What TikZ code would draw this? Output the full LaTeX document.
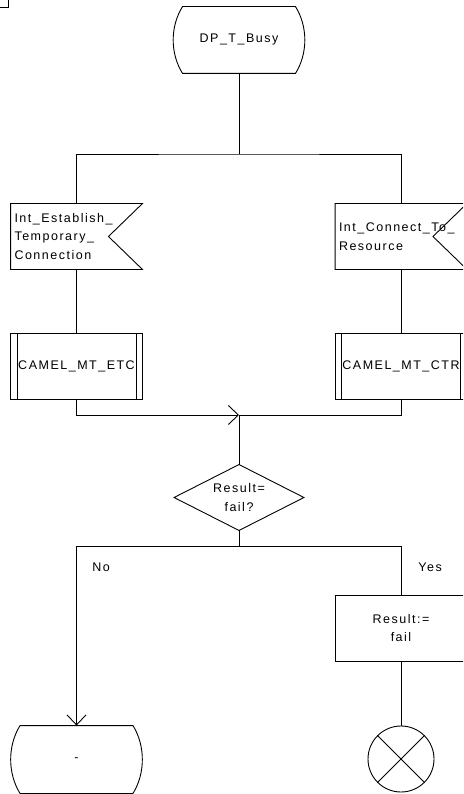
\documentclass[tikz,border=0pt]{standalone}
\usepackage{fontspec}
\setmainfont{Liberation Sans}[LetterSpace=12]
\usetikzlibrary{arrows.meta}
\begin{document}
\begin{tikzpicture}[x=1pt,y=-1pt,line width=0.9pt,
  font=\fontsize{12.5}{18.5}\selectfont,
  box/.style={rectangle,minimum width=131pt,minimum height=65pt,inner sep=0pt,align=center},
  sigbox/.style={box,text width=124pt,inner xsep=3.5pt,align=left},
  barb/.style={-{Straight Barb[length=10pt,width=19pt]}},
  lbl/.style={anchor=base west,inner sep=0pt}]
\useasboundingbox (0,0) rectangle (463,794);
\clip (0,0) rectangle (463,794);
% corner mark
\draw (0,7) -- (8,7) -- (8,0);
% nodes
\node[box,minimum height=66pt] (start) at (239,40) {DP\_T\_Busy};
\coordinate (j1) at (239,154);
\node[sigbox] (in1) at (76.5,236.5) {Int\_Establish\_\\Temporary\_\\Connection};
\node[sigbox] (in2) at (401,236.5) {Int\_Connect\_To\_\\Resource};
\node[box] (p1) at (76.5,366.5) {CAMEL\_MT\_ETC};
\node[box] (p2) at (401,366.5) {CAMEL\_MT\_CTR};
\coordinate (j2) at (239,415);
\node[box,minimum width=129pt] (dec) at (239,497.5) {Result=\\fail?};
\coordinate (j3) at (239,546);
\node[box,minimum height=66pt,draw] (task) at (401,628) {Result:=\\fail};
\node[box,minimum height=67pt] (endst) at (76.5,759.5) {-};
\node[circle,minimum size=66pt,inner sep=0pt,draw] (stop) at (401,759) {};
\node[lbl] (no) at (92,571) {No};
\node[lbl] (yes) at (418,571) {Yes};
% shapes
\foreach \n in {start,endst}{
  \draw ([xshift=9.5pt]\n.north west) -- ([xshift=-9.5pt]\n.north east)
    .. controls +(12.5,20) and +(12.5,-20) .. ([xshift=-9.5pt]\n.south east)
    -- ([xshift=9.5pt]\n.south west)
    .. controls +(-12.5,-20) and +(-12.5,20) .. ([xshift=9.5pt]\n.north west) -- cycle;
}
\foreach \n in {in1,in2}{
  \draw (\n.north west) -- (\n.north east) -- ([xshift=-34pt]\n.east)
    -- (\n.south east) -- (\n.south west) -- cycle;
}
\foreach \n in {p1,p2}{
  \draw (\n.north west) rectangle (\n.south east);
  \draw ([xshift=6.5pt]\n.north west) -- ([xshift=6.5pt]\n.south west);
  \draw ([xshift=-6.5pt]\n.north east) -- ([xshift=-6.5pt]\n.south east);
}
\draw (dec.north) -- (dec.east) -- (dec.south) -- (dec.west) -- cycle;
\draw (stop.north west) -- (stop.south east);
\draw (stop.north east) -- (stop.south west);
% connectors
\draw (start) -- (j1);
\draw (in1.north) |- (j1) -| (in2.north);
\draw (in1) -- (p1);
\draw (in2) -- (p2);
\draw[barb] (p1.south) |- (j2);
\draw (p2.south) |- (j2);
\draw (j2) -- (dec.north);
\draw (dec.south) -- (j3);
\draw[barb] (j3) -| (endst.north);
\draw (j3) -| (task.north);
\draw (task) -- (stop);
\end{tikzpicture}
\end{document}
